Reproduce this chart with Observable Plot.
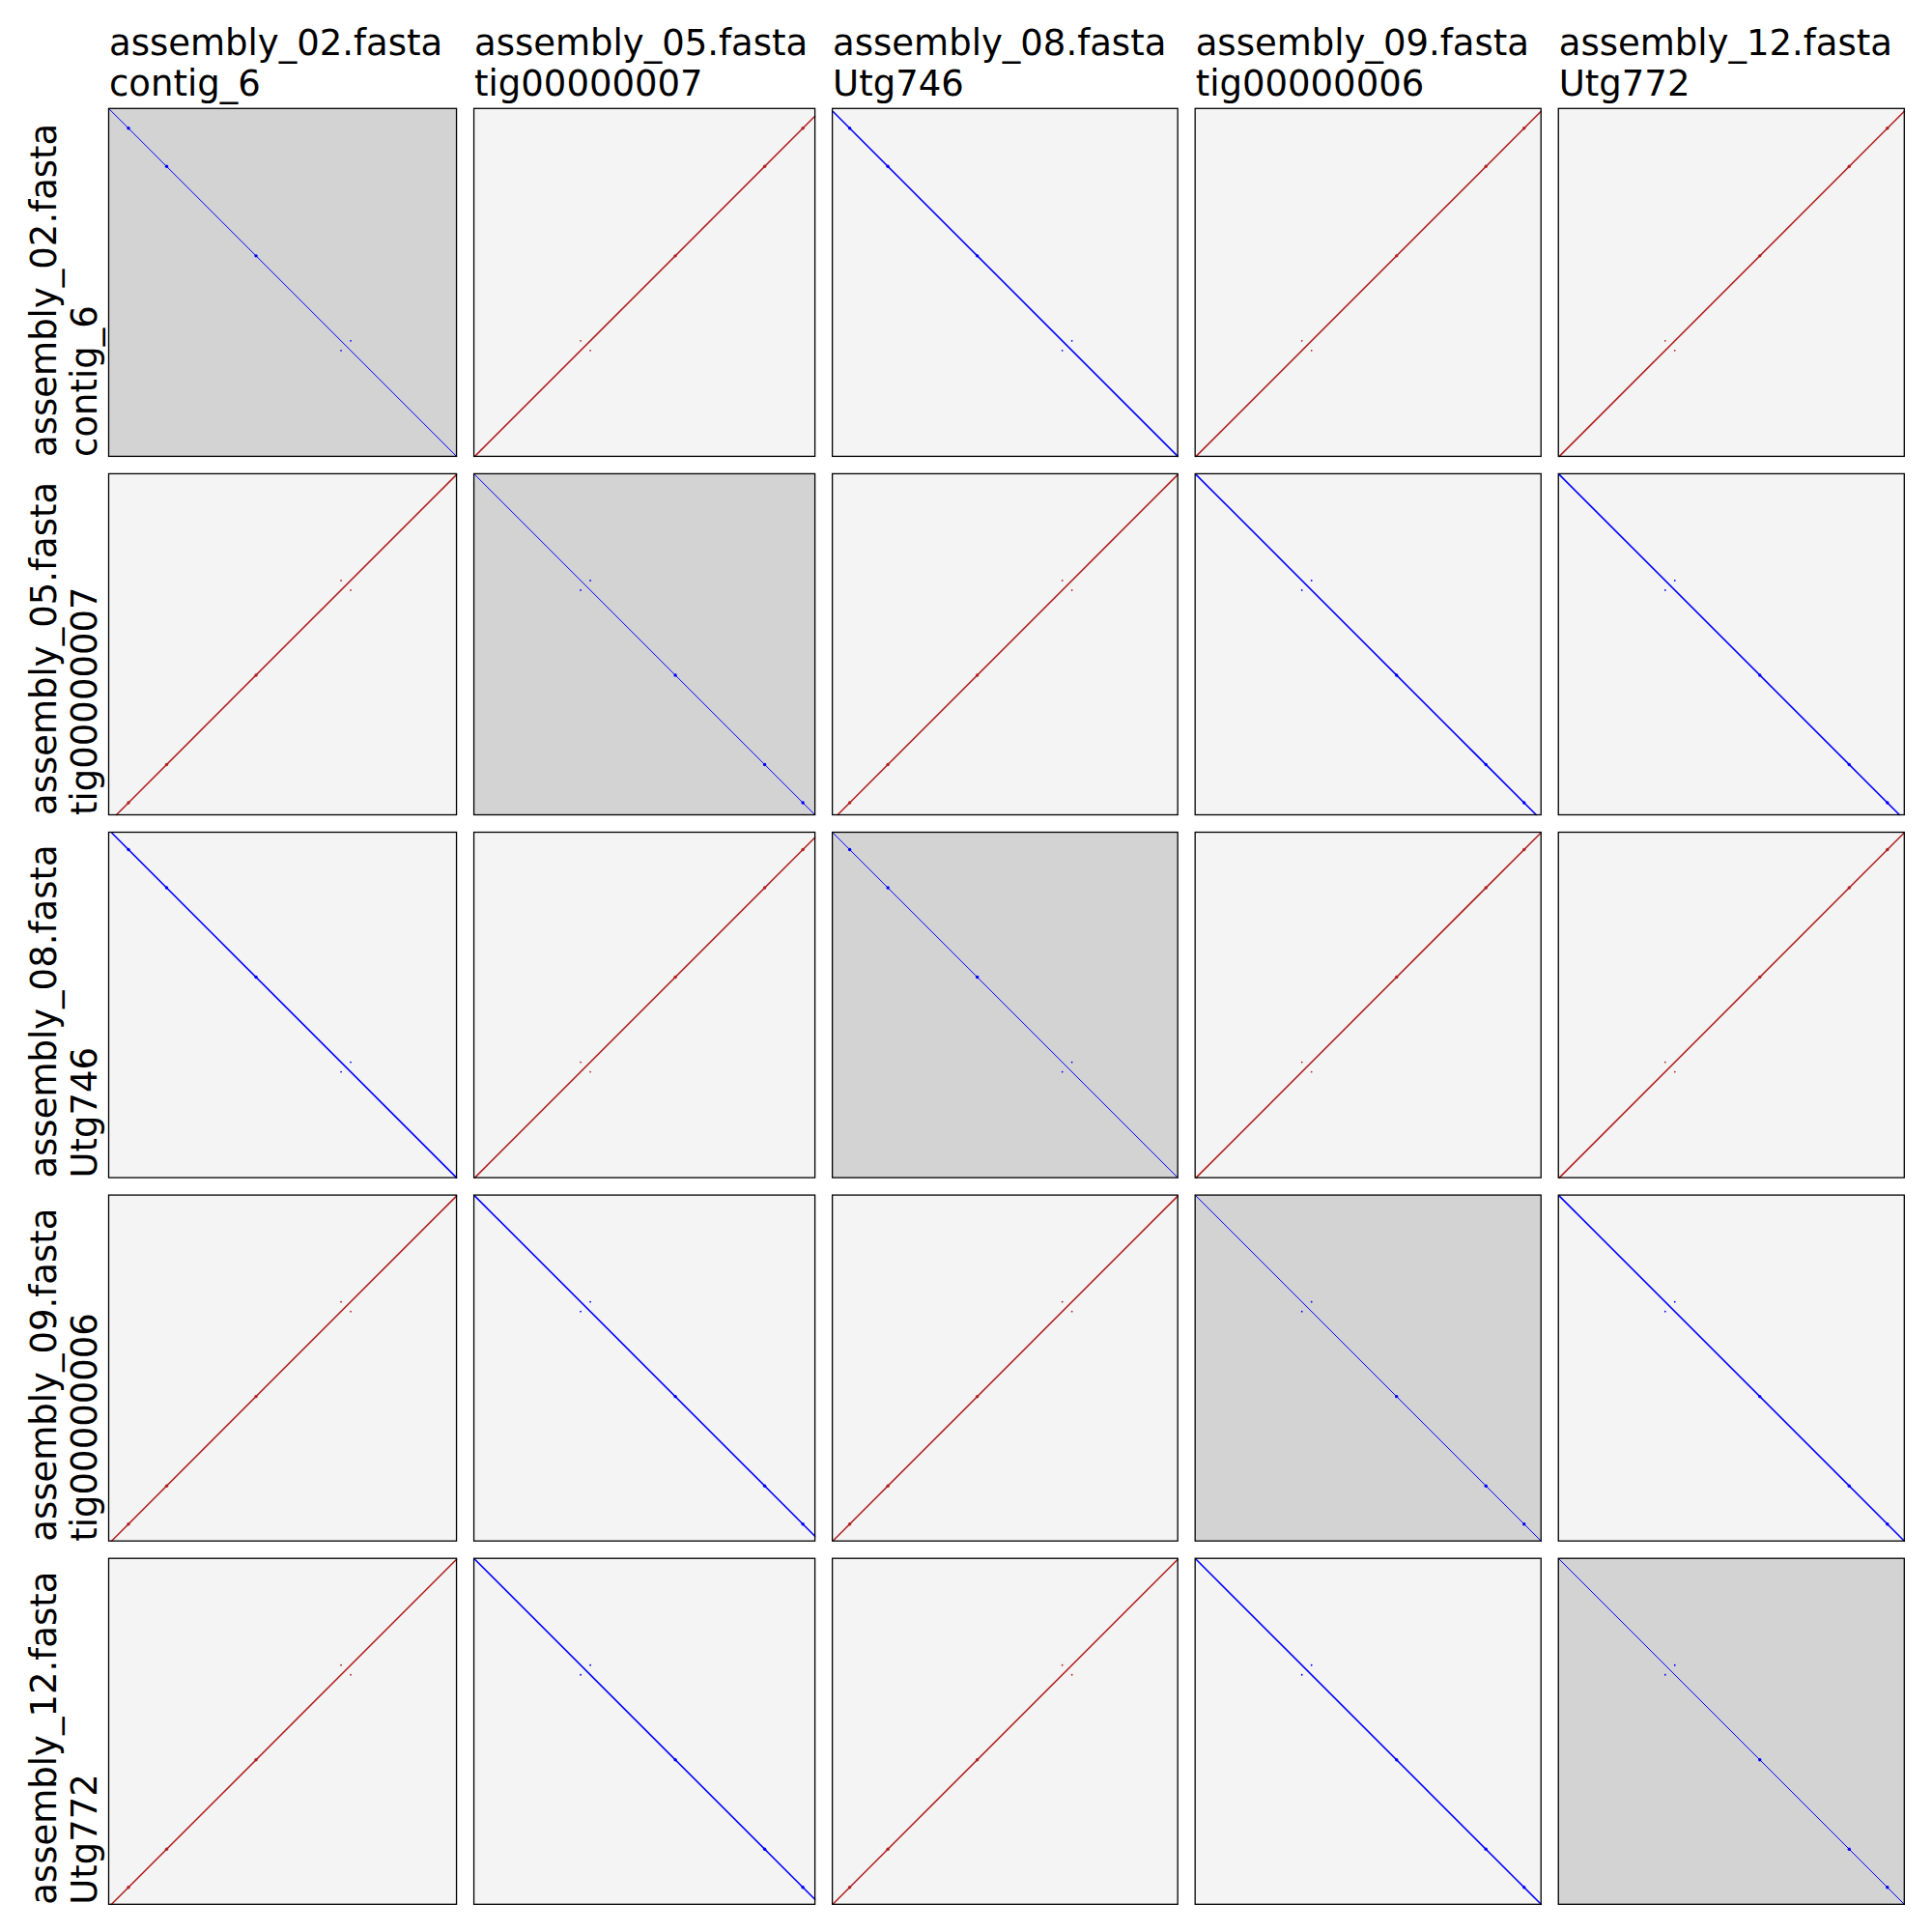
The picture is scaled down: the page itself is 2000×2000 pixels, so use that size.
<!DOCTYPE html>
<html>
<head>
<meta charset="utf-8">
<script src="https://cdn.jsdelivr.net/npm/d3@7"></script>
<script src="https://cdn.jsdelivr.net/npm/@observablehq/plot@0.6"></script>
<style>
  html, body { margin: 0; padding: 0; background: #ffffff; }
  #chart svg { display: block; }
</style>
</head>
<body>
<div id="chart"></div>
<script>
// ---- data ----
const assemblies = ["assembly_02.fasta", "assembly_05.fasta", "assembly_08.fasta", "assembly_09.fasta", "assembly_12.fasta"];
const contigs = ["contig_6", "tig00000007", "Utg746", "tig00000006", "Utg772"];
const contigLengthsKb = [5040, 4942, 5005, 5012, 5012];

// alignments: [row contig, column contig, xStart, yStart, xEnd, yEnd, strand] (kb within each contig)
const alignments = [
  [0, 0, 0, 0, 5040, 5040, "+"],
  [0, 1, 4942, 98, 0, 5040, "-"],
  [0, 2, 0, 35, 5005, 5040, "+"],
  [0, 3, 5012, 28, 0, 5040, "-"],
  [0, 4, 5012, 28, 0, 5040, "-"],
  [1, 0, 98, 4942, 5040, 0, "-"],
  [1, 1, 0, 0, 4942, 4942, "+"],
  [1, 2, 63, 4942, 5005, 0, "-"],
  [1, 3, 0, 0, 4942, 4942, "+"],
  [1, 4, 0, 0, 4942, 4942, "+"],
  [2, 0, 35, 0, 5040, 5005, "+"],
  [2, 1, 4942, 63, 0, 5005, "-"],
  [2, 2, 0, 0, 5005, 5005, "+"],
  [2, 3, 5005, 0, 0, 5005, "-"],
  [2, 4, 5005, 0, 0, 5005, "-"],
  [3, 0, 28, 5012, 5040, 0, "-"],
  [3, 1, 0, 0, 4942, 4942, "+"],
  [3, 2, 0, 5005, 5005, 0, "-"],
  [3, 3, 0, 0, 5012, 5012, "+"],
  [3, 4, 0, 0, 5012, 5012, "+"],
  [4, 0, 28, 5012, 5040, 0, "-"],
  [4, 1, 0, 0, 4942, 4942, "+"],
  [4, 2, 0, 5005, 5005, 0, "-"],
  [4, 3, 0, 0, 5012, 5012, "+"],
  [4, 4, 0, 0, 5012, 5012, "+"]
];

// repeat copies (kb) in each contig
const repeatA = [3360, 1680, 3325, 1680, 1680];
const repeatB = [3500, 1540, 3465, 1540, 1540];
// short strong-hit sites (kb) in each contig
const markerSites = [
  [280, 833, 2128],
  [4760, 4207, 2912],
  [245, 798, 2093],
  [4760, 4207, 2912],
  [4760, 4207, 2912]
];

// ---- layout helpers ----
const GAP = 252; // spacing between panels, in kb-equivalent units
const offsets = contigLengthsKb.map((_, i) => d3.sum(contigLengthsKb.slice(0, i)) + i * GAP);
const total = offsets[offsets.length - 1] + contigLengthsKb[contigLengthsKb.length - 1];

const panels = [];
for (let i = 0; i < contigs.length; ++i) {
  for (let j = 0; j < contigs.length; ++j) {
    panels.push({
      i, j, self: i === j,
      x1: offsets[j], x2: offsets[j] + contigLengthsKb[j],
      y1: offsets[i], y2: offsets[i] + contigLengthsKb[i]
    });
  }
}

const segs = alignments.map(([i, j, x1, y1, x2, y2, s]) => ({
  i, j, s, self: i === j,
  x1: offsets[j] + x1, y1: offsets[i] + y1,
  x2: offsets[j] + x2, y2: offsets[i] + y2
}));

const repeatDots = [];
const markerDots = [];
for (const [i, j, , , , , s] of alignments) {
  repeatDots.push({s, x: offsets[j] + repeatB[j], y: offsets[i] + repeatA[i]});
  repeatDots.push({s, x: offsets[j] + repeatA[j], y: offsets[i] + repeatB[i]});
  markerSites[j].forEach((site, k) => {
    markerDots.push({s, x: offsets[j] + site, y: offsets[i] + markerSites[i][k]});
  });
}

const colTitles = assemblies.map((a, j) => ({x: offsets[j], y: 0, label: a + "\n" + contigs[j]}));
const rowTitles = assemblies.map((a, i) => ({x: 0, y: offsets[i] + contigLengthsKb[i], label: a + "\n" + contigs[i]}));

const FWD = "#0000ff";
const REV = "#b22222";

const chart = Plot.plot({
  width: 2000,
  height: 2000,
  marginLeft: 112.5,
  marginRight: 28.7,
  marginTop: 112.3,
  marginBottom: 28.7,
  x: {domain: [0, total], axis: null},
  y: {domain: [0, total], axis: null, reverse: true},
  style: {fontFamily: "'DejaVu Sans', sans-serif", background: "#ffffff", color: "#000000"},
  marks: [
    Plot.rect(panels.filter(d => d.self), {x1: "x1", x2: "x2", y1: "y1", y2: "y2", fill: "#d3d3d3"}),
    Plot.rect(panels.filter(d => !d.self), {x1: "x1", x2: "x2", y1: "y1", y2: "y2", fill: "#f4f4f4"}),
    Plot.dot(repeatDots.filter(d => d.s === "+"), {x: "x", y: "y", r: 0.9, fill: FWD, stroke: null}),
    Plot.dot(repeatDots.filter(d => d.s === "-"), {x: "x", y: "y", r: 0.9, fill: REV, stroke: null}),
    Plot.link(segs.filter(d => d.s === "+" && d.self), {x1: "x1", y1: "y1", x2: "x2", y2: "y2", stroke: FWD, strokeWidth: 1}),
    Plot.link(segs.filter(d => d.s === "+" && !d.self), {x1: "x1", y1: "y1", x2: "x2", y2: "y2", stroke: FWD, strokeWidth: 1.6}),
    Plot.link(segs.filter(d => d.s === "-"), {x1: "x1", y1: "y1", x2: "x2", y2: "y2", stroke: REV, strokeWidth: 1.6}),
    Plot.dot(markerDots.filter(d => d.s === "+"), {x: "x", y: "y", r: 1.7, fill: FWD, stroke: null}),
    Plot.dot(markerDots.filter(d => d.s === "-"), {x: "x", y: "y", r: 1.7, fill: REV, stroke: null}),
    Plot.rect(panels, {x1: "x1", x2: "x2", y1: "y1", y2: "y2", fill: "none", stroke: "#000000", strokeWidth: 1.3}),
    Plot.text(colTitles, {
      x: "x", y: "y", text: "label",
      textAnchor: "start", lineAnchor: "bottom", lineHeight: 1.13,
      fontSize: 37, dy: -14, fill: "#000000"
    }),
    Plot.text(rowTitles, {
      x: "x", y: "y", text: "label", rotate: -90,
      textAnchor: "start", lineAnchor: "bottom", lineHeight: 1.13,
      fontSize: 37, dx: -13.5, fill: "#000000"
    })
  ]
});

document.getElementById("chart").appendChild(chart);
</script>
</body>
</html>
